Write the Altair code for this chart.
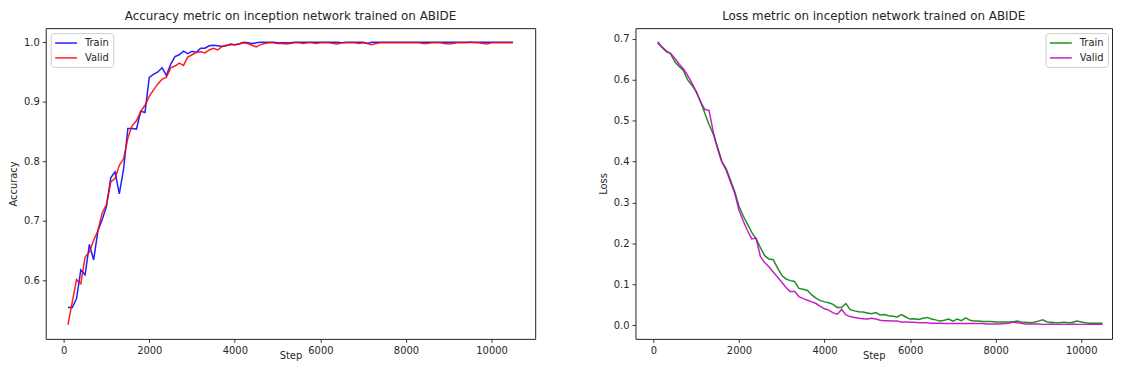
import altair as alt
import pandas as pd

steps = list(range(100, 10600, 100))

train_acc = [
    0.554, 0.554, 0.569, 0.617, 0.609, 0.660, 0.634, 0.683, 0.702, 0.724,
    0.772, 0.782, 0.745, 0.787, 0.855, 0.855, 0.854, 0.884, 0.882, 0.941,
    0.946, 0.950, 0.957, 0.944, 0.963, 0.976, 0.979, 0.985, 0.981, 0.985,
    0.983, 0.990, 0.990, 0.994, 0.995, 0.994, 0.993, 0.994, 0.997, 0.996,
    0.997, 1.000, 0.999, 0.998, 0.999, 1.000, 1.000, 1.000, 1.000, 0.999,
    0.999, 0.999, 0.999, 1.000, 1.000, 1.000, 1.000, 1.000, 1.000, 1.000,
    1.000, 1.000, 1.000, 1.000, 0.999, 1.000, 1.000, 1.000, 1.000, 1.000,
    0.998, 1.000, 1.000, 1.000, 1.000, 1.000, 1.000, 1.000, 1.000, 1.000,
    1.000, 1.000, 1.000, 1.000, 1.000, 1.000, 1.000, 1.000, 1.000, 1.000,
    1.000, 1.000, 1.000, 1.000, 1.000, 1.000, 1.000, 1.000, 1.000, 1.000,
    1.000, 1.000, 1.000, 1.000, 1.000,
]

valid_acc = [
    0.525, 0.563, 0.601, 0.594, 0.639, 0.647, 0.667, 0.683, 0.713, 0.727,
    0.765, 0.771, 0.793, 0.804, 0.839, 0.860, 0.868, 0.884, 0.894, 0.909,
    0.920, 0.930, 0.938, 0.941, 0.957, 0.960, 0.965, 0.961, 0.975, 0.979,
    0.983, 0.984, 0.982, 0.987, 0.990, 0.987, 0.993, 0.995, 0.996, 0.996,
    0.997, 0.999, 0.998, 0.995, 0.992, 0.996, 0.998, 0.999, 0.999, 0.998,
    0.998, 0.997, 0.998, 0.999, 0.999, 0.998, 0.999, 0.999, 0.998, 0.999,
    0.999, 0.999, 0.998, 0.997, 0.999, 0.999, 0.999, 0.999, 0.998, 0.999,
    0.998, 0.996, 0.998, 0.999, 0.999, 0.999, 0.999, 0.999, 0.999, 0.999,
    0.999, 0.999, 0.999, 0.998, 0.998, 0.999, 0.999, 0.999, 0.998, 0.997,
    0.998, 0.999, 0.999, 0.999, 1.000, 0.999, 0.999, 0.998, 0.997, 0.999,
    0.999, 0.999, 0.999, 0.999, 0.999,
]

train_loss = [
    0.693, 0.680, 0.671, 0.664, 0.644, 0.633, 0.623, 0.600, 0.587, 0.571,
    0.547, 0.519, 0.491, 0.467, 0.435, 0.400, 0.383, 0.355, 0.327, 0.291,
    0.267, 0.247, 0.227, 0.211, 0.190, 0.170, 0.162, 0.160, 0.140, 0.122,
    0.113, 0.109, 0.107, 0.090, 0.088, 0.085, 0.074, 0.066, 0.060, 0.057,
    0.055, 0.051, 0.043, 0.044, 0.053, 0.038, 0.035, 0.033, 0.032, 0.030,
    0.028, 0.031, 0.025, 0.026, 0.023, 0.022, 0.020, 0.026, 0.020, 0.015,
    0.016, 0.014, 0.017, 0.019, 0.015, 0.013, 0.010, 0.012, 0.015, 0.010,
    0.015, 0.011, 0.018, 0.012, 0.010, 0.010, 0.009, 0.009, 0.009, 0.008,
    0.008, 0.008, 0.008, 0.008, 0.010, 0.008, 0.007, 0.006, 0.007, 0.010,
    0.013, 0.008, 0.007, 0.006, 0.006, 0.007, 0.006, 0.007, 0.010, 0.008,
    0.006, 0.005, 0.005, 0.005, 0.005,
]

valid_loss = [
    0.690, 0.680, 0.669, 0.665, 0.653, 0.639, 0.627, 0.611, 0.592, 0.571,
    0.547, 0.528, 0.525, 0.472, 0.431, 0.399, 0.379, 0.351, 0.323, 0.281,
    0.255, 0.231, 0.211, 0.213, 0.168, 0.153, 0.143, 0.130, 0.118, 0.105,
    0.092, 0.082, 0.083, 0.070, 0.065, 0.061, 0.057, 0.053, 0.046, 0.040,
    0.037, 0.030, 0.027, 0.039, 0.025, 0.021, 0.019, 0.017, 0.016, 0.015,
    0.017, 0.015, 0.012, 0.011, 0.011, 0.010, 0.010, 0.008, 0.008, 0.007,
    0.007, 0.006, 0.006, 0.006, 0.005, 0.005, 0.005, 0.004, 0.004, 0.004,
    0.004, 0.004, 0.004, 0.004, 0.004, 0.004, 0.004, 0.003, 0.003, 0.003,
    0.003, 0.004, 0.005, 0.008, 0.006, 0.005, 0.003, 0.003, 0.003, 0.003,
    0.002, 0.002, 0.003, 0.002, 0.002, 0.002, 0.002, 0.003, 0.002, 0.002,
    0.002, 0.002, 0.002, 0.002, 0.002,
]

series_names = ["Train", "Valid"]
acc_colors = ["#0000ff", "#ff0000"]
loss_colors = ["#008000", "#bf00bf"]
x_ticks = [0, 2000, 4000, 6000, 8000, 10000]
acc_ticks = [0.6, 0.7, 0.8, 0.9, 1.0]
loss_ticks = [0.0, 0.1, 0.2, 0.3, 0.4, 0.5, 0.6, 0.7]

acc_df = pd.DataFrame(
    {"Step": steps * 2,
     "Value": train_acc + valid_acc,
     "Series": ["Train"] * len(steps) + ["Valid"] * len(steps)}
)
loss_df = pd.DataFrame(
    {"Step": steps * 2,
     "Value": train_loss + valid_loss,
     "Series": ["Train"] * len(steps) + ["Valid"] * len(steps)}
)

H = 313
TXT = "#262626"


def panel(df, title, ytitle, ydomain, yticks, colors, legend_orient, width, xmax):
    return alt.Chart(df, title=alt.TitleParams(
        title, fontSize=12, fontWeight="normal", font="DejaVu Sans",
        color=TXT, offset=5)).mark_line(strokeWidth=1.5, opacity=0.88).encode(
        x=alt.X("Step:Q", title="Step",
                scale=alt.Scale(domain=[-420, xmax], nice=False, zero=False),
                axis=alt.Axis(values=x_ticks, format="d", titlePadding=-5)),
        y=alt.Y("Value:Q", title=ytitle,
                scale=alt.Scale(domain=ydomain, nice=False, zero=False),
                axis=alt.Axis(values=yticks, format=".1f", titlePadding=5)),
        color=alt.Color("Series:N",
                        scale=alt.Scale(domain=series_names, range=colors),
                        legend=alt.Legend(title=None, orient=legend_orient)),
        order=alt.Order("Series:N"),
    ).properties(width=width, height=H)


left = panel(acc_df, "Accuracy metric on inception network trained on ABIDE",
             "Accuracy", [0.50125, 1.02375], acc_ticks, acc_colors, "top-left",
             493, 11020)
right = panel(loss_df, "Loss metric on inception network trained on ABIDE",
              "Loss", [-0.0335, 0.7265], loss_ticks, loss_colors, "top-right",
              480, 10720)

chart = alt.hconcat(left, right, spacing=62).resolve_scale(
    color="independent").properties(padding=0).configure(
    font="DejaVu Sans").configure_view(
    stroke="#222222", strokeWidth=1).configure_axis(
    grid=False, domain=False, tickColor="#222222", tickSize=3.5, tickWidth=0.9,
    labelColor=TXT, labelFontSize=10, labelFont="DejaVu Sans", labelPadding=3,
    titleColor=TXT, titleFontSize=10, titleFont="DejaVu Sans",
    titleFontWeight="normal").configure_legend(
    symbolType="M-1,0L3,0", symbolSize=121, symbolStrokeWidth=1.5,
    labelOffset=18, labelFontSize=10, labelFont="DejaVu Sans", labelColor=TXT,
    fillColor="rgba(255,255,255,0.8)", strokeColor="#cccccc", cornerRadius=3,
    padding=3.5, rowPadding=3, offset=4.5)

chart.save("out.html", embed_options={"renderer": "svg", "actions": False})
